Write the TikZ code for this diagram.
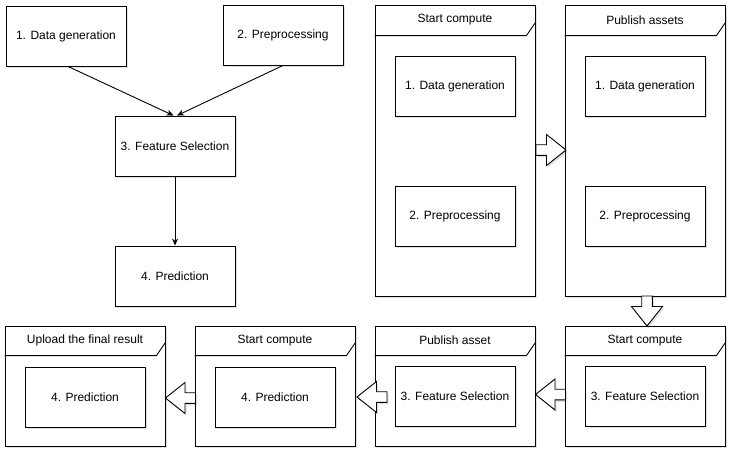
\documentclass[tikz,border=0pt]{standalone}
\usepackage{fontspec}
\setmainfont{Liberation Sans}
\usetikzlibrary{shadows,arrows.meta,calc}
\begin{document}
\begin{tikzpicture}[x=1pt,y=-1pt,
  shd/.style={drop shadow={shadow xshift=1.5pt,shadow yshift=-2pt,fill=black,opacity=0.12}},
  box/.style={draw,line width=0.9pt,fill=white,shd,minimum width=120pt,minimum height=60pt,inner sep=0pt,font=\fontsize{12}{14}\selectfont},
  frm/.style={draw,line width=0.9pt,fill=white,shd,minimum width=160pt,inner sep=0pt},
  hdr/.style={font=\fontsize{12}{14}\selectfont,inner sep=0pt},
  blockarrow/.pic={
    \coordinate (-c) at (0,0);
    \draw[line width=0.9pt,fill=white,shd,line join=miter]
      (-15,-5.3) -- (-4.5,-5.3) -- (-4.5,-15.5) -- (15,0) -- (-4.5,15.5) -- (-4.5,5.3) -- (-15,5.3) -- cycle;},
  conn/.style={line width=0.9pt,-{Stealth[length=7pt,width=6pt]}}]
\useasboundingbox (0,0) rectangle (737,458);

% left graph
\node[box] (n1) at (66,36) {1. Data generation};
\node[box] (n2) at (283,35) {2. Preprocessing};
\node[box] (n3) at (175,146) {3. Feature Selection};
\node[box] (n4) at (175,276) {4. Prediction};
\draw[conn] ([xshift=2pt]n1.south) -- ([xshift=-1.5pt]n3.north);
\draw[conn] (n2.south) -- ([xshift=2pt]n3.north);
\draw[conn] (n3.south) -- (n4.north);

% frame header
\newcommand\frmhdr[3]{% name, header height, label
  \draw[line width=0.9pt] ([yshift=-#2pt]#1.north west) -- ([xshift=-9pt,yshift=-#2pt]#1.north east) -- ([yshift=-#2pt+13pt]#1.north east);
  \node[hdr] (#1h) at ([yshift=-#2pt/2]#1.north) {#3};}

% top frames
\node[frm,minimum height=291pt] (fA) at (455,150.5) {};
\frmhdr{fA}{31}{Start compute}
\node[frm,minimum height=291pt] (fB) at (645,150.5) {};
\frmhdr{fB}{31}{Publish assets}
\node[box] (a1) at (455,86) {1. Data generation};
\node[box] (a2) at (455,216) {2. Preprocessing};
\node[box] (b1) at (645,86) {1. Data generation};
\node[box] (b2) at (645,216) {2. Preprocessing};

% bottom frames
\node[frm,minimum height=120pt] (f1) at (85,386) {};
\frmhdr{f1}{30}{Upload the final result}
\node[frm,minimum height=120pt] (f2) at (275,386) {};
\frmhdr{f2}{30}{Start compute}
\node[frm,minimum height=120pt] (f3) at (455,386) {};
\frmhdr{f3}{30}{Publish asset}
\node[frm,minimum height=120pt] (f4) at (645,386) {};
\frmhdr{f4}{30}{Start compute}
\node[box] (p1) at (85,397) {4. Prediction};
\node[box] (p2) at (275,397) {4. Prediction};
\node[box] (s3) at (455,396) {3. Feature Selection};
\node[box] (s4) at (645,396) {3. Feature Selection};

% block arrows
\pic (ab) at (551,150) {blockarrow};
\pic[rotate=-90] (bd) at (647,311) {blockarrow};
\pic[rotate=180] (dc) at (550.5,394.5) {blockarrow};
\pic[rotate=180] (cb) at (372,397) {blockarrow};
\pic[rotate=180] (ba) at (180.5,398) {blockarrow};
\end{tikzpicture}
\end{document}
